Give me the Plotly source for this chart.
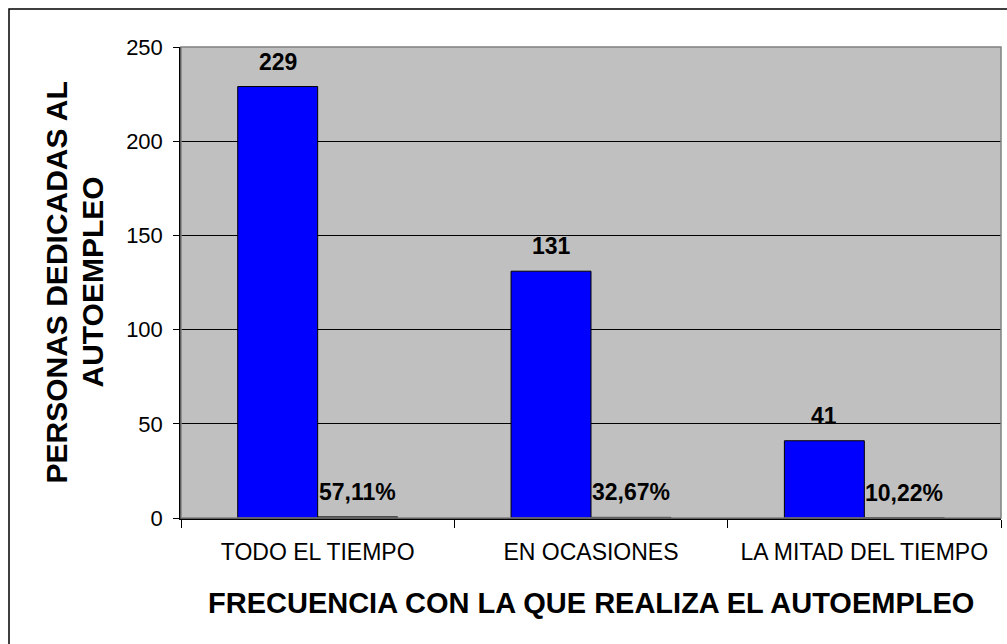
import plotly.graph_objects as go

# ---- data ----
categories = ["TODO EL TIEMPO", "EN OCASIONES", "LA MITAD DEL TIEMPO"]
personas = [229, 131, 41]
porcentajes = [0.5711, 0.3267, 0.1022]
porcentaje_labels = ["57,11%", "32,67%", "10,22%"]
y_ticks = [0, 50, 100, 150, 200, 250]
x_title = "FRECUENCIA CON LA QUE REALIZA EL AUTOEMPLEO"
y_title_lines = ["PERSONAS DEDICADAS AL", "AUTOEMPLEO"]

FONT = "Arial, Liberation Sans, sans-serif"
W, H = 1007, 644
ML, MR, MT, MB = 181, 6, 47, 126
PW = W - ML - MR
PH = H - MT - MB

fig = go.Figure()
fig.add_trace(go.Bar(
    x=categories, y=personas, name="Personas",
    marker=dict(color="#0000FF", line=dict(color="black", width=1)),
))
fig.add_trace(go.Bar(
    x=categories, y=porcentajes, name="Porcentaje",
    marker=dict(color="black", line=dict(color="black", width=1)),
))

bargap = 0.415
bar_px = PW / len(categories) * (1 - bargap) / 2
annotations = []
for c, v in zip(categories, personas):
    annotations.append(dict(x=c, y=v, xref="x", yref="y", text=f"<b>{v}</b>",
                            showarrow=False, xshift=-bar_px / 2, yshift=25,
                            yanchor="middle", xanchor="center",
                            font=dict(family=FONT, size=23, color="black")))
for c, v, t in zip(categories, porcentajes, porcentaje_labels):
    annotations.append(dict(x=c, y=v, xref="x", yref="y", text=f"<b>{t}</b>",
                            showarrow=False, xshift=bar_px / 2, yshift=25,
                            yanchor="middle", xanchor="center",
                            font=dict(family=FONT, size=23, color="black")))
# x title
annotations.append(dict(x=0.5, y=0, xref="paper", yref="paper", text=f"<b>{x_title}</b>",
                        showarrow=False, yshift=-85, yanchor="middle", xanchor="center",
                        font=dict(family=FONT, size=29, color="black")))
# y title (two lines)
for i, line in enumerate(y_title_lines):
    xpx = 56 + 36 * i
    annotations.append(dict(x=(xpx - ML) / PW, y=0.5, xref="paper", yref="paper",
                            text=f"<b>{line}</b>", showarrow=False, textangle=-90,
                            xanchor="center", yanchor="middle",
                            font=dict(family=FONT, size=30, color="black")))

shapes = [
    # plot-area border (gray)
    dict(type="rect", xref="paper", yref="paper", x0=0, x1=1, y0=0, y1=1,
         line=dict(color="#808080", width=1.5), layer="above"),
    # outer chart border (cropped at right/bottom)
    dict(type="rect", xref="paper", yref="paper",
         x0=(9 - ML) / PW, x1=(W + 20 - ML) / PW,
         y0=-(H + 20 - MT - PH) / PH, y1=1 + (MT - 9) / PH,
         line=dict(color="black", width=1.5), layer="below"),
]

fig.update_layout(
    width=W, height=H,
    margin=dict(l=ML, r=MR, t=MT, b=MB, pad=0),
    paper_bgcolor="white", plot_bgcolor="#C0C0C0",
    barmode="group", bargap=bargap, bargroupgap=0,
    showlegend=False,
    font=dict(family=FONT, color="black"),
    annotations=annotations, shapes=shapes,
)
fig.update_xaxes(
    type="category", tickson="boundaries", ticks="outside", ticklen=8,
    tickcolor="black", tickwidth=1, showline=True, linecolor="black", linewidth=1.5,
    showgrid=False, tickfont=dict(family=FONT, size=23, color="black"),
    ticklabelstandoff=13,
)
fig.update_yaxes(
    range=[0, 250], tickvals=y_ticks, ticks="outside", ticklen=6,
    tickcolor="black", tickwidth=1, showline=True, linecolor="black", linewidth=1.5,
    showgrid=True, gridcolor="black", gridwidth=1, zeroline=False,
    tickfont=dict(family=FONT, size=22, color="black"), ticklabelstandoff=6,
)

fig.write_html("out.html", config={"displayModeBar": False},
               post_script="document.body.style.margin='0';")
